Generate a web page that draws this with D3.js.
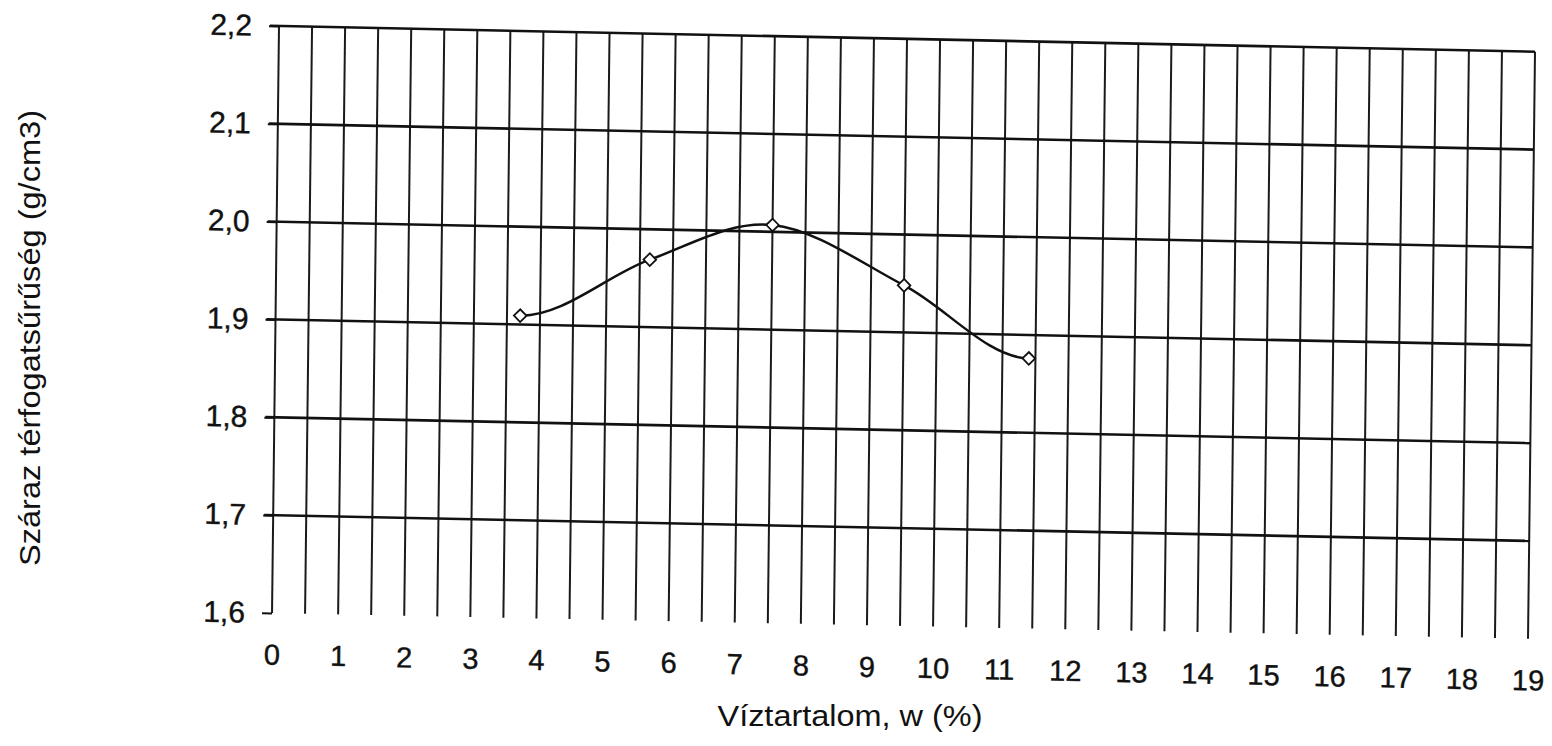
<!DOCTYPE html>
<html>
<head>
<meta charset="utf-8">
<script src="https://cdn.jsdelivr.net/npm/d3@7"></script>
<style>
	body { margin: 0; background: #fff; }
	text { font-family: "Liberation Sans", Arial, sans-serif; fill: #111; }
</style>
</head>
<body>
<div id="proctor"><svg width="1552" height="746"></svg></div>
<script>
var waterContent = [3.7, 5.65, 7.5, 9.5, 11.4];
var dryDensity = [1.909, 1.969, 2.007, 1.948, 1.876];
var xTicks = d3.range(0, 20, 1);
var xGrid = d3.range(0, 19.01, 0.5);
var yTicks = [1.6, 1.7, 1.8, 1.9, 2.0, 2.1, 2.2];
var yGrid = [1.7, 1.8, 1.9, 2.0, 2.1, 2.2];

// smooth curve through the points, flat at both ends like the drawn one
function flatEnds(context) {
	var pts = [];
	return {
		areaStart: function () {},
		areaEnd: function () {},
		lineStart: function () { pts = []; },
		point: function (px, py) { pts.push([px, py]); },
		lineEnd: function () {
			var n = pts.length;
			if (!n) return;
			var m = pts.map(function (p, i) {
				if (i === 0) return [pts[1][0] - p[0], 0];
				if (i === n - 1) return [p[0] - pts[n - 2][0], 0];
				return [(pts[i + 1][0] - pts[i - 1][0]) / 2, (pts[i + 1][1] - pts[i - 1][1]) / 2];
			});
			context.moveTo(pts[0][0], pts[0][1]);
			for (var i = 0; i < n - 1; i++) {
				context.bezierCurveTo(
					pts[i][0] + m[i][0] / 3, pts[i][1] + m[i][1] / 3,
					pts[i + 1][0] - m[i + 1][0] / 3, pts[i + 1][1] - m[i + 1][1] / 3,
					pts[i + 1][0], pts[i + 1][1]);
			}
		}
	};
}

(function () {
	var svg = d3.select("#proctor svg");
	var width = 1256,
	height = 587;

	// the scanned sheet is a little crooked, so the plot sits in a slightly sheared frame
	var g = svg.append("g")
		.attr("transform", "matrix(1,0.0205,-0.0119,1,279,26)");

	var x = d3.scaleLinear()
		.domain([0, 19])
		.range([0, width]);

	var y = d3.scaleLinear()
		.domain([1.6, 2.2])
		.range([height, 0]);

	var fmt = function (d) {
		return d3.format(".1f")(d).replace(".", ",");
	};

	// vertical grid every half unit
	g.selectAll(".vgrid")
	.data(xGrid)
	.enter().append("line")
	.attr("class", "vgrid")
	.attr("x1", function (d) { return x(d); })
	.attr("x2", function (d) { return x(d); })
	.attr("y1", y(2.2))
	.attr("y2", y(1.6))
	.attr("stroke", "#1a1a1a")
	.attr("stroke-width", 2);

	// horizontal grid
	g.selectAll(".hgrid")
	.data(yGrid)
	.enter().append("line")
	.attr("class", "hgrid")
	.attr("x1", -9)
	.attr("x2", x(19))
	.attr("y1", function (d) { return y(d); })
	.attr("y2", function (d) { return y(d); })
	.attr("stroke", "#111")
	.attr("stroke-width", 2.6);

	var yAxis = g.append("g")
		.call(d3.axisLeft(y).tickValues(yTicks).tickFormat(fmt).tickSize(10).tickPadding(17));
	yAxis.select(".domain").remove();
	yAxis.selectAll("line").attr("stroke", "#111").attr("stroke-width", 2);
	yAxis.selectAll("text")
	.style("font-size", "30px")
	.attr("fill", "#111")
	.attr("stroke", "#111")
	.attr("stroke-width", 0.4);

	var xAxis = g.append("g")
		.attr("transform", "translate(0," + height + ")")
		.call(d3.axisBottom(x).tickValues(xTicks).tickFormat(d3.format("d")).tickSize(0).tickPadding(31));
	xAxis.select(".domain").remove();
	xAxis.selectAll("text")
	.style("font-size", "29px")
	.attr("fill", "#111")
	.attr("stroke", "#111")
	.attr("stroke-width", 0.4);

	var line = d3.line()
		.x(function (d, i) { return x(waterContent[i]); })
		.y(function (d) { return y(d); })
		.curve(flatEnds);

	g.append("path")
	.datum(dryDensity)
	.attr("fill", "none")
	.attr("stroke", "#111")
	.attr("stroke-width", 2.5)
	.attr("d", line);

	g.selectAll(".pt")
	.data(dryDensity)
	.enter().append("path")
	.attr("class", "pt")
	.attr("d", d3.symbol().type(d3.symbolSquare).size(80))
	.attr("transform", function (d, i) {
		return "translate(" + x(waterContent[i]) + "," + y(d) + ") rotate(45)";
	})
	.attr("fill", "#fff")
	.attr("stroke", "#111")
	.attr("stroke-width", 1.8);

	svg.append("text")
	.attr("x", 850)
	.attr("y", 726)
	.attr("text-anchor", "middle")
	.attr("textLength", 265)
	.attr("lengthAdjust", "spacingAndGlyphs")
	.style("font-size", "29px")
	.text("Víztartalom, w (%)");

	svg.append("text")
	.attr("transform", "translate(40,338) rotate(-90)")
	.attr("text-anchor", "middle")
	.attr("textLength", 456)
	.attr("lengthAdjust", "spacingAndGlyphs")
	.style("font-size", "29px")
	.text("Száraz térfogatsűrűség (g/cm3)");
}) ();
</script>
</body>
</html>
